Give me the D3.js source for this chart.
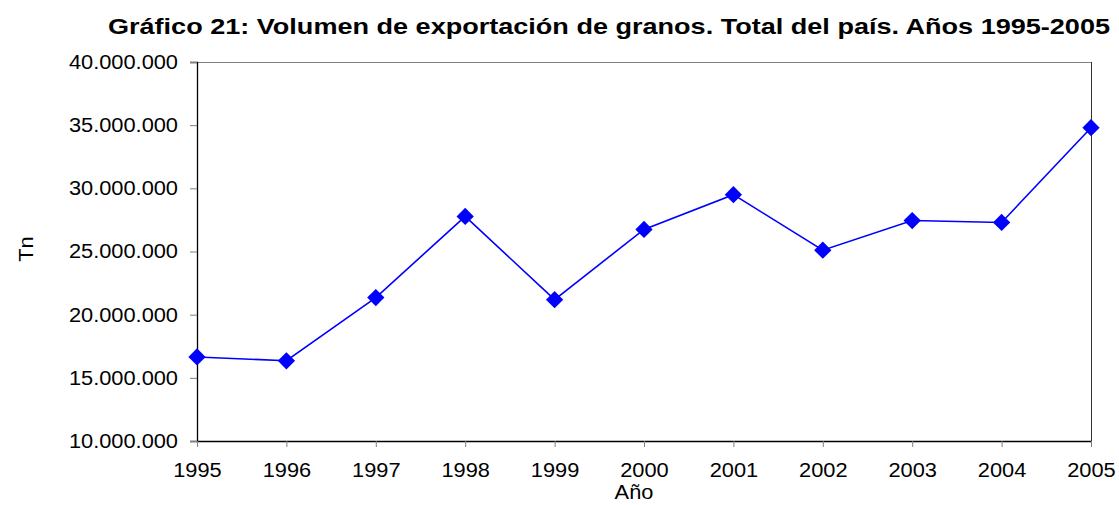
<!DOCTYPE html>
<html>
<head>
<meta charset="utf-8">
<script src="https://cdn.jsdelivr.net/npm/d3@7"></script>
<style>
  body { margin: 0; background: #fff; }
  text { font-family: "Liberation Sans", Arial, sans-serif; }
</style>
</head>
<body>
<svg id="chart" width="1119" height="505"></svg>
<script>
const years = ['1995', '1996', '1997', '1998', '1999', '2000', '2001', '2002', '2003', '2004', '2005'];
const tonnes = [16650000, 16350000, 21350000, 27780000, 21190000, 26750000, 29500000, 25100000, 27450000, 27300000, 34800000];
const yTicks = [10000000, 15000000, 20000000, 25000000, 30000000, 35000000, 40000000];

const title = 'Gráfico 21: Volumen de exportación de granos. Total del país. Años 1995-2005';

const width = 1119;
const height = 505;
const margin = { top: 62, right: 28, bottom: 64, left: 197 };
const innerWidth = width - margin.left - margin.right;
const innerHeight = height - margin.top - margin.bottom;

// the original picture is a bit wider than tall, so text is stretched sideways
const stretch = 1.09;
const widen = (sel, k) =>
  sel.each(function () {
    const w = this.getComputedTextLength();
    d3.select(this)
      .attr('textLength', w * k)
      .attr('lengthAdjust', 'spacingAndGlyphs');
  });

const svg = d3.select('#chart');

const xScale = d3.scalePoint().domain(years).range([0, innerWidth]);
const yScale = d3.scaleLinear().domain([10000000, 40000000]).range([innerHeight, 0]);

const fmt = (d) => d3.format(',')(d).replace(/,/g, '.');

const g = svg.append('g')
  .attr('transform', `translate(${margin.left},${margin.top})`);

// frame: top and right edges of the plot area
g.append('line')
  .attr('x1', 0).attr('x2', innerWidth)
  .attr('y1', 0.5).attr('y2', 0.5)
  .attr('stroke', '#808080');
g.append('line')
  .attr('x1', innerWidth + 0.5).attr('x2', innerWidth + 0.5)
  .attr('y1', 0).attr('y2', innerHeight)
  .attr('stroke', '#333');

const yAxisG = g.append('g')
  .call(d3.axisLeft(yScale).tickValues(yTicks).tickFormat(fmt).tickSize(7).tickPadding(12));
yAxisG.select('.domain').attr('stroke', '#000').attr('stroke-width', 1.3);
yAxisG.selectAll('.tick line').attr('stroke', '#808080');
yAxisG.selectAll('.tick text')
  .attr('font-size', 20)
  .attr('fill', '#000')
  .call(widen, stretch);

const xAxisG = g.append('g')
  .attr('transform', `translate(0,${innerHeight})`)
  .call(d3.axisBottom(xScale).tickSize(6).tickPadding(16).tickSizeOuter(0));
xAxisG.select('.domain').attr('stroke', '#000').attr('stroke-width', 1.3);
xAxisG.selectAll('.tick line').attr('stroke', '#808080');
xAxisG.selectAll('.tick text')
  .attr('font-size', 20)
  .attr('fill', '#000')
  .call(widen, stretch);

const line = d3.line()
  .x((d, i) => xScale(years[i]))
  .y((d) => yScale(d));

g.append('path')
  .datum(tonnes)
  .attr('d', line)
  .attr('fill', 'none')
  .attr('stroke', '#0000ff')
  .attr('stroke-width', 1.6);

g.selectAll('.marker')
  .data(tonnes)
  .join('path')
  .attr('class', 'marker')
  .attr('d', d3.symbol().type(d3.symbolDiamond2).size(190))
  .attr('transform', (d, i) => `translate(${xScale(years[i])},${yScale(d)})`)
  .attr('fill', '#0000ff');

svg.append('text')
  .attr('x', 609)
  .attr('y', 34)
  .attr('text-anchor', 'middle')
  .attr('font-size', 22)
  .attr('font-weight', 'bold')
  .attr('textLength', 1002)
  .attr('lengthAdjust', 'spacingAndGlyphs')
  .text(title);

svg.append('text')
  .attr('x', 634)
  .attr('y', 499)
  .attr('text-anchor', 'middle')
  .attr('font-size', 20)
  .text('Año')
  .call(widen, stretch);

svg.append('text')
  .attr('transform', 'translate(33,249) rotate(-90)')
  .attr('text-anchor', 'middle')
  .attr('font-size', 20)
  .text('Tn')
  .call(widen, stretch);
</script>
</body>
</html>
